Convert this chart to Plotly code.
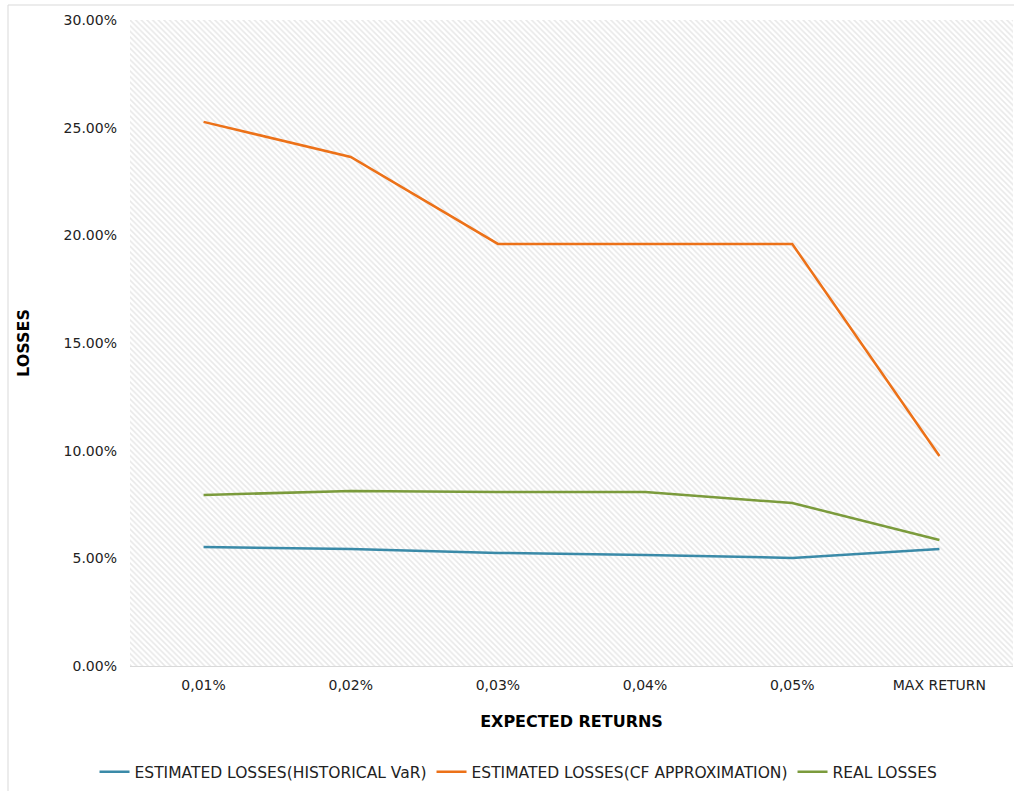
import plotly.graph_objects as go

# Expected-return scenarios on the x axis
categories = ["0,01%", "0,02%", "0,03%", "0,04%", "0,05%", "MAX RETURN"]

# Losses per scenario (fractions)
hist_var_losses = [0.0553, 0.0543, 0.0525, 0.0516, 0.0502, 0.0543]
cf_approx_losses = [0.2527, 0.2364, 0.1960, 0.1960, 0.1960, 0.0975]
real_losses = [0.0794, 0.0813, 0.0808, 0.0808, 0.0757, 0.0585]

y_tick_values = [0.0, 0.05, 0.10, 0.15, 0.20, 0.25, 0.30]
y_tick_labels = ["0.00%", "5.00%", "10.00%", "15.00%", "20.00%", "25.00%", "30.00%"]

FONT = "DejaVu Sans"
x_pos = list(range(len(categories)))
x_lo, x_hi = -0.5, len(categories) - 0.5
y_lo, y_hi = y_tick_values[0], y_tick_values[-1]

fig = go.Figure()

# Hatched plot background
fig.add_trace(go.Scatter(
    x=[x_lo, x_hi, x_hi, x_lo, x_lo],
    y=[y_lo, y_lo, y_hi, y_hi, y_lo],
    mode="none",
    fill="toself",
    fillcolor="rgba(0,0,0,0)",
    fillpattern=dict(shape="\\", fgcolor="#d2d2d2", bgcolor="#ffffff",
                     size=4, solidity=0.4),
    hoverinfo="skip",
    showlegend=False,
))

series = [
    ("ESTIMATED LOSSES(HISTORICAL VaR)", hist_var_losses, "#3a8aa8"),
    ("ESTIMATED LOSSES(CF APPROXIMATION)", cf_approx_losses, "#ec7118"),
    ("REAL LOSSES", real_losses, "#7b9b3c"),
]
for name, vals, color in series:
    fig.add_trace(go.Scatter(
        x=x_pos, y=vals, name=name, mode="lines",
        line=dict(color=color, width=2.5),
    ))

fig.update_layout(
    width=1014, height=791,
    margin=dict(l=130, r=1, t=20, b=125, autoexpand=False),
    paper_bgcolor="#ffffff",
    plot_bgcolor="#ffffff",
    font=dict(family=FONT, size=14, color="#222222"),
    showlegend=True,
    legend=dict(orientation="h", x=0.44, xanchor="center", y=-0.138, yanchor="top",
                font=dict(family=FONT, size=15.5, color="#222222"),
                itemwidth=30, tracegroupgap=0),
    xaxis=dict(
        range=[x_lo, x_hi], automargin=False,
        tickmode="array", tickvals=x_pos, ticktext=categories,
        showgrid=True, gridcolor="#e6e6e6", gridwidth=1,
        minor=dict(tickmode="array", tickvals=[p + 0.5 for p in x_pos[:-1]],
                   showgrid=True, gridcolor="#e6e6e6", gridwidth=1),
        showline=True, linecolor="#d9d9d9", linewidth=1,
        zeroline=False, ticks="", ticklabelstandoff=6,
        tickfont=dict(family=FONT, size=14, color="#222222"),
        title=dict(text="<b>EXPECTED RETURNS</b>", standoff=24,
                   font=dict(family=FONT, size=16, color="#000000")),
    ),
    yaxis=dict(
        range=[y_lo, y_hi], automargin=False,
        tickmode="array", tickvals=y_tick_values, ticktext=y_tick_labels,
        showgrid=True, gridcolor="#e6e6e6", gridwidth=1,
        zeroline=False, showline=False, ticks="",
        ticklabelstandoff=12,
        tickfont=dict(family=FONT, size=14, color="#222222"),
        title=dict(text="<b>LOSSES</b>", standoff=30,
                   font=dict(family=FONT, size=16, color="#000000")),
    ),
    shapes=[
        # outer chart frame
        dict(type="rect", xref="paper", yref="paper",
             x0=(8 - 130) / 883, x1=1.05, y0=-0.3, y1=(666 - 5) / 646,
             line=dict(color="#d9d9d9", width=1), fillcolor="rgba(0,0,0,0)",
             layer="below"),
    ],
)

fig.write_html("out.html")
